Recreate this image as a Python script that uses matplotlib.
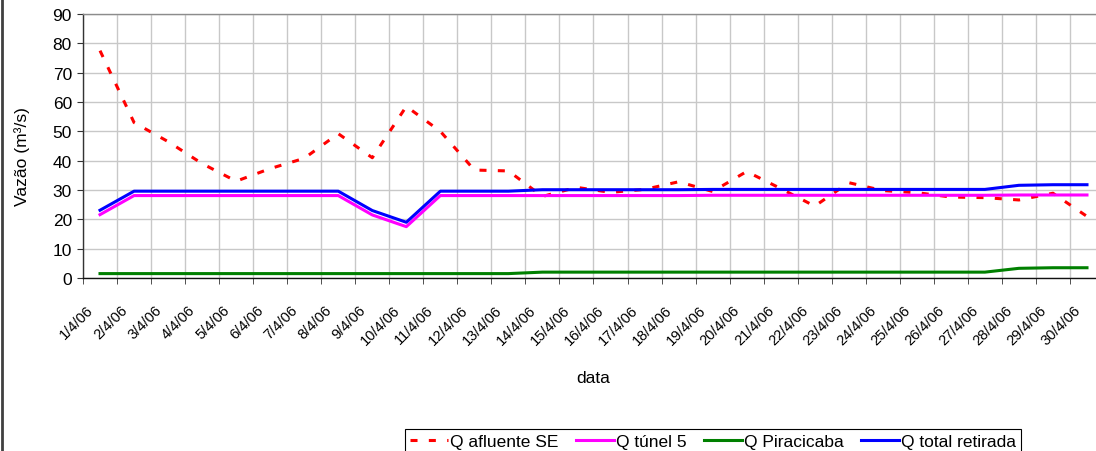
import matplotlib
matplotlib.use('Agg')
import matplotlib.pyplot as plt
import matplotlib.transforms as mtrans
from matplotlib.lines import Line2D
import numpy as np

plt.rcParams['font.family'] = ['Liberation Sans', 'DejaVu Sans']

dates = ["1/4/06", "2/4/06", "3/4/06", "4/4/06", "5/4/06", "6/4/06", "7/4/06",
         "8/4/06", "9/4/06", "10/4/06", "11/4/06", "12/4/06", "13/4/06", "14/4/06",
         "15/4/06", "16/4/06", "17/4/06", "18/4/06", "19/4/06", "20/4/06", "21/4/06",
         "22/4/06", "23/4/06", "24/4/06", "25/4/06", "26/4/06", "27/4/06", "28/4/06",
         "29/4/06", "30/4/06"]

q_afluente = [77.5, 53.0, 46.5, 39.0, 33.0, 37.3, 40.8, 49.2, 41.0, 58.5,
              50.0, 36.8, 36.5, 27.8, 30.9, 29.2, 30.2, 32.8, 29.5, 36.3,
              30.5, 24.5, 32.5, 29.8, 29.1, 27.6, 27.4, 26.6, 28.9, 21.0]
q_tunel5 = [21.6, 28.1, 28.1, 28.1, 28.1, 28.1, 28.1, 28.1, 21.5, 17.5,
            28.1, 28.1, 28.1, 28.1, 28.1, 28.1, 28.1, 28.1, 28.2, 28.2,
            28.2, 28.2, 28.2, 28.2, 28.2, 28.2, 28.2, 28.3, 28.3, 28.3]
q_piracicaba = [1.5, 1.5, 1.5, 1.5, 1.5, 1.5, 1.5, 1.5, 1.5, 1.5,
                1.5, 1.5, 1.5, 2.0, 2.0, 2.0, 2.0, 2.0, 2.0, 2.0,
                2.0, 2.0, 2.0, 2.0, 2.0, 2.0, 2.0, 3.3, 3.5, 3.5]
q_total = [23.1, 29.6, 29.6, 29.6, 29.6, 29.6, 29.6, 29.6, 23.0, 19.0,
           29.6, 29.6, 29.6, 30.1, 30.1, 30.1, 30.1, 30.1, 30.2, 30.2,
           30.2, 30.2, 30.2, 30.2, 30.2, 30.2, 30.2, 31.6, 31.8, 31.8]

W, H = 1096, 452
fig = plt.figure(figsize=(W / 100, H / 100), dpi=100)
ax = fig.add_axes([83 / W, 1 - 279 / H, 1021 / W, 264 / H])

x = np.arange(len(dates))
lw = 2.2
l1, = ax.plot(x, q_afluente, color='#FF0000', lw=lw, ls=(0, (2.3, 3.7)),
              dash_capstyle='butt', label='Q afluente SE', zorder=3)
l2, = ax.plot(x, q_tunel5, color='#FF00FF', lw=lw, label='Q túnel 5', zorder=3)
l3, = ax.plot(x, q_piracicaba, color='#008000', lw=lw, label='Q Piracicaba', zorder=3)
l4, = ax.plot(x, q_total, color='#0000FF', lw=lw, label='Q total retirada', zorder=3)

ax.set_xlim(-0.5, len(dates) - 0.5)
ax.set_ylim(0, 90)
ax.set_yticks(np.arange(0, 91, 10))
ax.set_xticks(x)
ax.set_xticklabels(dates, rotation=45, ha='right', va='center', rotation_mode='anchor',
                   fontsize=10.5)
ax.set_xticks(np.arange(-0.5, len(dates), 1), minor=True)
ax.tick_params(axis='x', which='major', length=0, pad=21)
ax.tick_params(axis='x', which='minor', length=4, direction='out', color='#333333')
ax.tick_params(axis='y', length=4, direction='out', color='#333333', labelsize=12.5, pad=4)
off = mtrans.ScaledTranslation(-0.09, 0, fig.dpi_scale_trans)
for lab in ax.get_xticklabels():
    lab.set_transform(lab.get_transform() + off)

ax.grid(which='minor', axis='x', color='#c8c8c8', lw=1.0)
ax.grid(which='major', axis='y', color='#c8c8c8', lw=1.0)
ax.set_axisbelow(True)

ax.spines['left'].set_color('#333333')
ax.spines['bottom'].set_color('#111111')
ax.spines['top'].set_color('#8c8c8c')
ax.spines['right'].set_visible(False)
for s in ['left', 'bottom', 'top']:
    ax.spines[s].set_linewidth(1.0)

ax.set_ylabel('Vazão (m³/s)', fontsize=12.5)
ax.yaxis.set_label_coords(-0.052, 0.462)
ax.set_xlabel('data', fontsize=12.5)
ax.xaxis.set_label_coords(0.5, -0.35)
ax.xaxis.label.set_va('top')

leg = fig.legend(handles=[l1, l2, l3, l4], loc='upper left',
                 bbox_to_anchor=(405 / W, 1 - 430 / H), ncol=4, frameon=True,
                 fancybox=False, edgecolor='black', framealpha=1, fontsize=12.5,
                 handlelength=2.2, handletextpad=0.1, columnspacing=1.0,
                 borderpad=0.3, borderaxespad=0)
leg.get_frame().set_linewidth(0.8)

fig.add_artist(Line2D([1.5 / W, 1.5 / W], [0, 1], transform=fig.transFigure,
                      color='#404040', lw=2))

fig.savefig('out.png', dpi=100)
